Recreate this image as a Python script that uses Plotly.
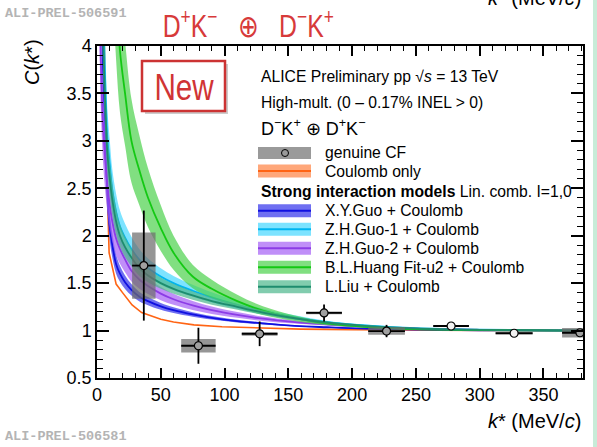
import plotly.graph_objects as go

# ---------------- data ----------------
k_data = [36.7, 79.5, 127.5, 178.0, 227.0, 277.6, 327.0, 378.6]
c_data = [1.685, 0.84, 0.966, 1.186, 0.995, 1.048, 0.972, 0.977]
stat_err = [0.58, 0.19, 0.13, 0.09, 0.065, 0.025, 0.02, 0.02]
bin_half = [9.2, 13.5, 14.0, 14.0, 14.4, 14.0, 14.5, 14.0]
syst_err = [0.35, 0.07, 0.02, 0.015, 0.04, 0.01, 0.01, 0.05]
marker_fill = ['#a0a0a0', '#a0a0a0', '#a0a0a0', '#a0a0a0', '#a0a0a0',
               '#f2f2f2', '#f2f2f2', '#a0a0a0']

k_coul = [5, 7, 9.5, 15, 20, 27.5, 35, 43.5, 50, 60, 76, 98, 130, 160, 200, 250, 300, 383]
c_coul = [4.6, 3.0, 1.82, 1.49, 1.40, 1.27, 1.19, 1.15, 1.12, 1.09, 1.06, 1.04, 1.025,
          1.015, 1.01, 1.005, 1.0, 1.0]

k_model = [2, 3, 4, 5, 6, 7, 8, 10, 12, 15, 18, 22, 27, 33, 40, 50, 60, 75, 90,
           110, 130, 155, 180, 210, 250, 300, 383]
xyguo = [7.0, 5.2, 4.2, 3.6, 3.2, 2.8, 2.5, 2.1, 1.9, 1.70, 1.60, 1.51, 1.43, 1.36,
         1.31, 1.255, 1.215, 1.17, 1.135, 1.10, 1.075, 1.05, 1.035, 1.02, 1.01, 1.003, 1.0]
xyguo_err = [0.84, 0.59, 0.45, 0.36, 0.31, 0.25, 0.21, 0.15, 0.13, 0.10, 0.084, 0.071,
             0.06, 0.05, 0.043, 0.036, 0.03, 0.024, 0.019, 0.014, 0.011, 0.007, 0.005,
             0.003, 0.001, 0.0, 0.0]
zhguo1 = [8.0, 6.0, 5.0, 4.35, 3.8, 3.4, 3.05, 2.75, 2.48, 2.25, 2.1, 1.98, 1.86, 1.75,
          1.66, 1.57, 1.5, 1.42, 1.35, 1.27, 1.2, 1.14, 1.09, 1.055, 1.025, 1.01, 1.0]
zhguo1_err = [1.05, 0.75, 0.6, 0.5, 0.42, 0.36, 0.31, 0.26, 0.22, 0.19, 0.165, 0.147,
              0.129, 0.113, 0.099, 0.086, 0.075, 0.063, 0.053, 0.041, 0.03, 0.021,
              0.014, 0.008, 0.004, 0.0015, 0.0]
zhguo2 = [4.6, 3.85, 3.4, 3.1, 2.88, 2.7, 2.55, 2.32, 2.15, 1.97, 1.86, 1.75, 1.63,
          1.54, 1.47, 1.39, 1.33, 1.265, 1.215, 1.165, 1.125, 1.09, 1.065, 1.04, 1.02,
          1.008, 1.0]
zhguo2_err = [0.65, 0.51, 0.43, 0.38, 0.34, 0.31, 0.28, 0.24, 0.21, 0.175, 0.155, 0.135,
              0.113, 0.097, 0.085, 0.07, 0.059, 0.048, 0.039, 0.03, 0.023, 0.016, 0.012,
              0.007, 0.004, 0.0014, 0.0]
blhuang = [14.0, 12.0, 11.0, 10.0, 9.0, 8.3, 7.6, 6.6, 5.7, 4.65, 3.95, 3.5, 3.0, 2.7,
           2.4, 2.08, 1.82, 1.57, 1.44, 1.31, 1.21, 1.13, 1.075, 1.04, 1.015, 1.005, 1.0]
blhuang_err = [2.9, 2.4, 2.2, 2.0, 1.76, 1.6, 1.45, 1.23, 1.03, 0.8, 0.65, 0.55, 0.44,
               0.37, 0.31, 0.24, 0.18, 0.125, 0.097, 0.068, 0.046, 0.029, 0.017, 0.009,
               0.003, 0.001, 0.0]
lliu = [7.5, 5.5, 4.6, 4.0, 3.55, 3.2, 2.9, 2.6, 2.38, 2.15, 2.0, 1.88, 1.77, 1.66,
        1.58, 1.5, 1.44, 1.37, 1.31, 1.25, 1.19, 1.13, 1.085, 1.05, 1.022, 1.008, 1.0]
lliu_err = [0.78, 0.54, 0.43, 0.36, 0.31, 0.26, 0.23, 0.19, 0.17, 0.14, 0.12, 0.106,
            0.092, 0.079, 0.07, 0.06, 0.053, 0.044, 0.037, 0.03, 0.023, 0.016, 0.01,
            0.006, 0.003, 0.001, 0.0]

model_names = ["X.Y.Guo + Coulomb", "Z.H.Guo-1 + Coulomb", "Z.H.Guo-2 + Coulomb",
               "B.L.Huang Fit-u2 + Coulomb", "L.Liu + Coulomb"]
x_ticks = [0, 50, 100, 150, 200, 250, 300, 350]
y_ticks = [0.5, 1, 1.5, 2, 2.5, 3, 3.5, 4]

# ---------------- styling ----------------
band_fill = ['rgba(50,50,235,0.7)', 'rgba(70,215,255,0.7)', 'rgba(165,95,245,0.7)',
             'rgba(75,210,75,0.7)', 'rgba(75,183,140,0.7)']
line_col = ['#1010e0', '#00b4f0', '#8c3ce6', '#14c814', '#1e8c6e']
orange_band = 'rgba(255,130,65,0.7)'
orange_line = '#ff6414'
FONT = "Liberation Sans, Arial, Helvetica, sans-serif"
MONO = "Liberation Mono, Courier New, monospace"

W, H = 597, 447
L, R, T, B = 97, 14, 46, 69


def px(x):
    return (x - L) / (W - L - R)


def py(y):
    return (H - B - y) / (H - T - B)


fig = go.Figure()

fig.add_trace(go.Scatter(x=k_coul, y=c_coul, mode='lines',
                         line=dict(color=orange_line, width=1.6), hoverinfo='skip',
                         showlegend=False))

models = [(xyguo, xyguo_err), (zhguo1, zhguo1_err), (zhguo2, zhguo2_err),
          (blhuang, blhuang_err), (lliu, lliu_err)]
for i, (cv, er) in enumerate(models):
    lo = [c - e for c, e in zip(cv, er)]
    hi = [c + e for c, e in zip(cv, er)]
    fig.add_trace(go.Scatter(x=k_model, y=lo, mode='lines', line=dict(width=0, shape='spline'),
                             hoverinfo='skip', showlegend=False))
    fig.add_trace(go.Scatter(x=k_model, y=hi, mode='lines', line=dict(width=0, shape='spline'),
                             fill='tonexty', fillcolor=band_fill[i], hoverinfo='skip',
                             showlegend=False))
    fig.add_trace(go.Scatter(x=k_model, y=cv, mode='lines', name=model_names[i],
                             line=dict(color=line_col[i], width=1.8, shape='spline'),
                             showlegend=False))

bx, by = [], []
for k, c, hw, s in zip(k_data, c_data, bin_half, syst_err):
    bx += [k - hw, k + hw, k + hw, k - hw, k - hw, None]
    by += [c - s, c - s, c + s, c + s, c - s, None]
fig.add_trace(go.Scatter(x=bx, y=by, mode='lines', fill='toself',
                         fillcolor='rgba(110,110,110,0.72)', line=dict(width=0),
                         hoverinfo='skip', showlegend=False))

fig.add_trace(go.Scatter(
    x=k_data, y=c_data, mode='markers', name='genuine CF',
    marker=dict(symbol='circle', size=8, color=marker_fill,
                line=dict(color='black', width=1.2)),
    error_x=dict(type='data', array=bin_half, color='black', thickness=1.8, width=0),
    error_y=dict(type='data', array=stat_err, color='black', thickness=1.8, width=0),
    showlegend=False))

shapes = []
annotations = []

# slide strip at the right edge
shapes.append(dict(type='rect', xref='paper', yref='paper', x0=px(593), x1=px(600),
                   y0=py(-5), y1=py(452), fillcolor='#c8ecd8', line=dict(width=0),
                   layer='below'))

# "New" box
shapes.append(dict(type='rect', xref='paper', yref='paper', x0=px(145), x1=px(228),
                   y0=py(114), y1=py(64), fillcolor='rgba(0,0,0,0.2)', line=dict(width=0)))
shapes.append(dict(type='rect', xref='paper', yref='paper', x0=px(142), x1=px(225),
                   y0=py(111), y1=py(61), fillcolor='white',
                   line=dict(color='#cc3333', width=2.5)))
annotations.append(dict(text='New', x=px(183.5), y=py(87), xref='paper', yref='paper',
                        xanchor='center', yanchor='middle', showarrow=False,
                        font=dict(family=FONT, size=37, color='#d03434')))

# red title
annotations.append(dict(text='D<sup>+</sup>K<sup>−</sup>\u00a0\u00a0\u00a0⊕\u00a0\u00a0\u00a0D<sup>−</sup>K<sup>+</sup>',
                        x=px(248), y=py(24), xref='paper', yref='paper',
                        xanchor='center', yanchor='middle', showarrow=False,
                        font=dict(family=FONT, size=31, color='#d73a3a')))

for yy, txt in [(14, 'ALI-PREL-506591'), (436, 'ALI-PREL-506581')]:
    annotations.append(dict(text='<b>%s</b>' % txt, x=px(3), y=py(yy), xref='paper',
                            yref='paper', xanchor='left', yanchor='middle',
                            showarrow=False,
                            font=dict(family=MONO, size=13.5, color='#b4b4b4')))

annotations.append(dict(text='<i>k</i>* (MeV/<i>c</i>)', x=px(583), y=py(421),
                        xref='paper', yref='paper', xanchor='right', yanchor='middle',
                        showarrow=False, font=dict(family=FONT, size=20, color='black')))
annotations.append(dict(text='<i>k</i>* (MeV/<i>c</i>)', x=px(583), y=py(-2),
                        xref='paper', yref='paper', xanchor='right', yanchor='middle',
                        showarrow=False, font=dict(family=FONT, size=20, color='black')))
annotations.append(dict(text='<i>C</i>(<i>k</i>*)', x=px(32), y=py(62), xref='paper',
                        yref='paper', xanchor='center', yanchor='middle', textangle=-90,
                        showarrow=False, font=dict(family=FONT, size=20, color='black')))

LF = 15.7
hdr = [('ALICE Preliminary pp √<i>s</i> = 13 TeV', 76, LF),
       ('High-mult. (0 – 0.17% INEL > 0)', 102.7, LF),
       ('D<sup>−</sup>K<sup>+</sup> ⊕ D<sup>+</sup>K<sup>−</sup>', 128, 18),
       ('<b>Strong interaction models</b> Lin. comb. I=1,0', 191, LF)]
for txt, yy, fs in hdr:
    annotations.append(dict(text=txt, x=px(259), y=py(yy), xref='paper', yref='paper',
                            xanchor='left', yanchor='middle', showarrow=False,
                            font=dict(family=FONT, size=fs, color='black')))

SX0, SX1 = 258, 311
shapes.append(dict(type='rect', xref='paper', yref='paper', x0=px(SX0), x1=px(SX1),
                   y0=py(159), y1=py(147), fillcolor='#9a9a9a', line=dict(width=0)))
shapes.append(dict(type='circle', xref='paper', yref='paper', x0=px(281.5), x1=px(288.5),
                   y0=py(156.5), y1=py(149.5), fillcolor='#9a9a9a',
                   line=dict(color='black', width=1)))
annotations.append(dict(text='genuine CF', x=px(323), y=py(152.7), xref='paper',
                        yref='paper', xanchor='left', yanchor='middle', showarrow=False,
                        font=dict(family=FONT, size=LF, color='black')))
shapes.append(dict(type='rect', xref='paper', yref='paper', x0=px(SX0), x1=px(SX1),
                   y0=py(177.5), y1=py(164.5), fillcolor=orange_band, line=dict(width=0)))
shapes.append(dict(type='line', xref='paper', yref='paper', x0=px(SX0), x1=px(SX1),
                   y0=py(171), y1=py(171), line=dict(color=orange_line, width=1.8)))
annotations.append(dict(text='Coulomb only', x=px(323), y=py(171), xref='paper',
                        yref='paper', xanchor='left', yanchor='middle', showarrow=False,
                        font=dict(family=FONT, size=LF, color='black')))

leg_y = [210.7, 229.3, 248.3, 267.3, 286.7]
for i, yc in enumerate(leg_y):
    shapes.append(dict(type='rect', xref='paper', yref='paper', x0=px(SX0), x1=px(SX1),
                       y0=py(yc + 6.5), y1=py(yc - 6.5), fillcolor=band_fill[i],
                       line=dict(width=0)))
    shapes.append(dict(type='line', xref='paper', yref='paper', x0=px(SX0), x1=px(SX1),
                       y0=py(yc), y1=py(yc), line=dict(color=line_col[i], width=2)))
    annotations.append(dict(text=model_names[i], x=px(323), y=py(yc), xref='paper',
                            yref='paper', xanchor='left', yanchor='middle',
                            showarrow=False,
                            font=dict(family=FONT, size=LF, color='black')))

fig.update_layout(
    width=W, height=H, margin=dict(l=L, r=R, t=T, b=B, pad=0),
    paper_bgcolor='white', plot_bgcolor='white', showlegend=False,
    shapes=shapes, annotations=annotations,
    font=dict(family=FONT, size=18, color='black'),
    xaxis=dict(range=[0, 381], tickmode='array', tickvals=x_ticks,
               ticktext=[str(v) for v in x_ticks],
               showline=True, linecolor='black', linewidth=1.5, mirror='allticks',
               ticks='inside', ticklen=10, tickwidth=1.5, tickcolor='black',
               minor=dict(ticks='inside', ticklen=5, tickwidth=1.2, tickcolor='black',
                          tickmode='linear', tick0=0, dtick=10),
               showgrid=False, zeroline=False,
               tickfont=dict(family=FONT, size=18, color='black')),
    yaxis=dict(range=[0.5, 4], tickmode='array', tickvals=y_ticks,
               ticktext=['%g' % v for v in y_ticks],
               showline=True, linecolor='black', linewidth=1.5, mirror='allticks',
               ticks='inside', ticklen=12, tickwidth=1.5, tickcolor='black',
               minor=dict(ticks='inside', ticklen=6, tickwidth=1.2, tickcolor='black',
                          tickmode='linear', tick0=0.5, dtick=0.1),
               showgrid=False, zeroline=False,
               tickfont=dict(family=FONT, size=18, color='black')),
)

# narrow (condensed-looking) red texts, like the slide's font
post = """
document.body.style.margin='0px';
document.body.style.overflow='hidden';
var gd = document.getElementById('{plot_id}');
gd.querySelectorAll('text.annotation-text').forEach(function(t){
  var s = t.textContent;
  if (s === 'New' || s.indexOf('\u2295\u00a0') >= 0) {
    t.style.transformBox = 'fill-box';
    t.style.transformOrigin = 'center';
    t.style.transform = 'scaleX(0.8)';
  }
});
"""

fig.write_html("out.html", config={'displayModeBar': False}, post_script=post)
